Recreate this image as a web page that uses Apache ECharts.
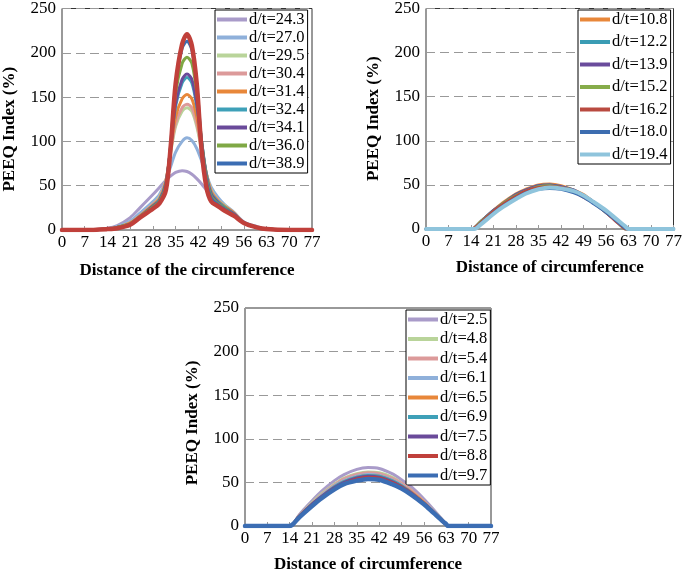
<!DOCTYPE html>
<html><head><meta charset="utf-8">
<script src="https://cdn.jsdelivr.net/npm/echarts@6/dist/echarts.min.js"></script>
<style>html,body{margin:0;padding:0;background:#fff}#c{width:685px;height:574px}</style>
</head><body><div id="c"></div>
<script>
// ---------- data ----------
const xTicks = [0,7,14,21,28,35,42,49,56,63,70,77];
const yTicks = [0,50,100,150,200,250];

// Chart A (top-left)
const xsA = [0,7,14,17,21,24,28,30,32,33.5,35,37,38.5,40,41.5,43,44.5,46,48,50,53,56,60,63,70,77];
const namesA = ['d/t=24.3','d/t=27.0','d/t=29.5','d/t=30.4','d/t=31.4','d/t=32.4','d/t=34.1','d/t=36.0','d/t=38.9','d/t=40+'];
const colorsA = ['#a99bc9','#8fb0da','#b9d49a','#dc9a9a','#e8873a','#3ea0b8','#6a4a9a','#7fa845','#3b6db3','#c0403b'];
const a243 = [0,0,2,5,14,25,40,48,56,61,65,67,66,63,58,52,45,38,32,27,19,9,3,1,0,0];
const a270 = [0,0,1,4,10,19,32,40,56,72,88,100,104,101,92,78,62,48,37,29,20,9,4,1,0,0];
const a295 = [0,0,1,3,8,16,29,37,56,88,117,134,138,134,117,90,63,45,34,28,19,8,3,1,0,0];
const a304 = [0,0,1,3,8,16,29,36,56,90,120,138,142,138,120,92,63,44,34,27,19,8,3,1,0,0];
const a314 = [0,0,1,3,8,16,28,35,55,92,128,148,153,148,128,95,63,43,33,27,19,8,3,1,0,0];
const a324 = [0,0,1,3,7,15,27,34,53,95,140,166,172,166,140,100,62,41,32,26,18,8,3,1,0,0];
const a341 = [0,0,1,3,7,15,27,33,52,95,143,170,176,170,143,100,60,40,31,25,18,8,3,1,0,0];
const a360 = [0,0,1,3,7,15,26,32,50,96,155,188,195,188,155,100,58,38,30,25,17,8,3,1,0,0];
const a389 = [0,0,1,2,6,14,25,31,48,98,165,205,213,203,165,98,55,36,29,24,17,8,3,1,0,0];
const aRed = [0,0,1,2,6,14,24,30,45,95,165,210,221,208,165,90,48,32,27,22,16,8,3,1,0,0];
const valsA = [a243,a270,a295,a304,a314,a324,a341,a360,a389,aRed];

// Chart B (top-right)
const xsB = [0,7,14,15,17,21,24,28,31,35,38.5,42,46,49,52,56,59,61,62,63,70,77];
const namesB = ['d/t=10.8','d/t=12.2','d/t=13.9','d/t=15.2','d/t=16.2','d/t=18.0','d/t=19.4'];
const colorsB = ['#e8873a','#3a9cb4','#6a4c9c','#86ac4a','#b94a40','#3d6db0','#8fc4dc'];
const b108 = [0,0,0,1,8,21,30,40,45,50,51,49,44,39,31,20,10,3,0,0,0,0];
const b122 = [0,0,0,1,8,21,29,39,44,49,50,48,44,38,31,19,10,3,0,0,0,0];
const b139 = [0,0,0,1,8,21,29,39,44,49,50,48,44,38,31,19,10,3,0,0,0,0];
const b152 = [0,0,0,1,8,20,29,38,43,48,49,47,43,37,30,19,10,3,0,0,0,0];
const b162 = [0,0,0,1,7,20,28,37,43,47,48,47,42,36,30,19,9,3,0,0,0,0];
const b180 = [0,0,0,0,6,18,26,35,41,45,46,45,41,36,29,19,10,4,1,0,0,0];
const b194 = [0,0,0,0,5,17,25,34,40,45,47,46,43,38,31,21,12,6,3,0,0,0];
const valsB = [b108,b122,b139,b152,b162,b180,b194];

// Chart C (bottom)
const xsC = [0,7,14,15,17,21,24,28,31,35,38.5,42,46,49,52,56,59,62,63,63.5,70,77];
const namesC = ['d/t=2.5','d/t=4.8','d/t=5.4','d/t=6.1','d/t=6.5','d/t=6.9','d/t=7.5','d/t=8.8','d/t=9.7'];
const colorsC = ['#a99bc9','#b9d49a','#dc9a9a','#8fb0da','#e8873a','#3ea0b8','#6a4a9a','#c0403b','#3b6db3'];
const c25 = [0,0,0,2,13,29,40,52,59,65,67,66,60,53,45,31,19,6,2,0,0,0];
const c48 = [0,0,0,2,12,27,37,48,55,60,62,61,56,49,41,28,17,6,2,0,0,0];
const c54 = [0,0,0,2,12,26,36,47,54,59,61,60,55,49,41,28,17,6,2,0,0,0];
const c61 = [0,0,0,2,11,25,35,46,52,57,59,58,53,47,39,27,17,6,2,0,0,0];
const c65 = [0,0,0,2,11,25,34,45,51,56,58,57,52,46,39,27,16,5,2,0,0,0];
const c69 = [0,0,0,2,11,25,34,45,51,56,58,57,52,46,38,26,16,5,2,0,0,0];
const c75 = [0,0,0,2,11,25,34,44,50,55,57,56,51,45,38,26,16,5,2,0,0,0];
const c88 = [0,0,0,2,11,24,33,43,49,54,56,55,50,45,37,26,16,5,2,0,0,0];
const c97 = [0,0,0,2,10,23,32,42,48,52,54,53,48,43,36,25,15,5,2,0,0,0];
const valsC = [c25,c48,c54,c61,c65,c69,c75,c88,c97];

// ---------- chart ----------
const FONT = '"Liberation Serif","Times New Roman",serif';
const grids = [
  {left:59, top:7, width:253, height:223},
  {left:426, top:7, width:250, height:222},
  {left:245, top:308, width:246, height:222}
];
const xNames = ['Distance of the circumference','Distance of circumference','Distance of circumference'];
const yNamePad = [[0,20,0,0],[0,0,0,0],[0,12,0,0]];

function xAxis(i){return {type:'value',gridIndex:i,min:0,max:77,interval:7,
  name:xNames[i],nameLocation:'middle',nameGap:i===0?32:30,
  nameTextStyle:{fontFamily:FONT,fontWeight:'bold',fontSize:17,color:'#000'},
  axisLine:{show:true,lineStyle:{color:'#999',width:1}},
  axisTick:{show:true,inside:true,length:4,lineStyle:{color:'#999',width:1}},
  axisLabel:{fontFamily:FONT,fontSize:17,color:'#000',margin:4},
  splitLine:{show:false}};}
function yAxis(i){return {type:'value',gridIndex:i,min:0,max:250,interval:50,
  name:'PEEQ Index (%)',nameLocation:'middle',nameGap:44,
  nameTextStyle:{fontFamily:FONT,fontWeight:'bold',fontSize:17,color:'#000',padding:yNamePad[i]},
  axisLine:{show:true,lineStyle:{color:'#999',width:1}},axisTick:{show:false},
  axisLabel:{fontFamily:FONT,fontSize:17,color:'#000',margin:6},
  splitLine:{show:true,lineStyle:{color:'#999',width:1,type:[9,5]}}};}

const series = [];
function addSeries(gi, xs, names, colors, vals, widths){
  names.forEach((n,k)=>{
    series.push({type:'line',name:n,xAxisIndex:gi,yAxisIndex:gi,
      data:xs.map((x,j)=>[x,vals[k][j]]),showSymbol:false,symbol:'none',
      smooth:0.3,
      lineStyle:{color:colors[k],width:widths(k),join:'round',cap:'round'},itemStyle:{color:colors[k]},
      z:2+k,silent:true,animation:false});
  });
}
addSeries(0, xsA, namesA, colorsA, valsA, k=> k===9?4.5:3);
addSeries(1, xsB, namesB, colorsB, valsB, k=> k===6?4:3);
addSeries(2, xsC, namesC, colorsC, valsC, k=> k===8?4.5:3);

function legend(left, top, names, gap){return {left, top, data:names, orient:'vertical',
  icon:'rect', itemWidth:30, itemHeight:4, itemGap:gap,
  backgroundColor:'#fff', borderColor:'#000', borderWidth:1, borderRadius:0, padding:[1,3,1,2],
  textStyle:{fontFamily:FONT,fontSize:16.5,color:'#000',lineHeight:16,padding:[0,0,0,-3]},
  selectedMode:false};}

const chart = echarts.init(document.getElementById('c'), null, {renderer:'canvas'});
chart.setOption({
  animation:false,
  backgroundColor:'#fff',
  grid: grids.map(g=>Object.assign({show:true,borderColor:'#333',borderWidth:1,backgroundColor:'transparent'},g)),
  xAxis:[xAxis(0),xAxis(1),xAxis(2)],
  yAxis:[yAxis(0),yAxis(1),yAxis(2)],
  legend:[legend(215,10,namesA.slice(0,9),1), legend(578,10,namesB,5.5), legend(406,310,namesC,2.5)],
  series
});
</script></body></html>
